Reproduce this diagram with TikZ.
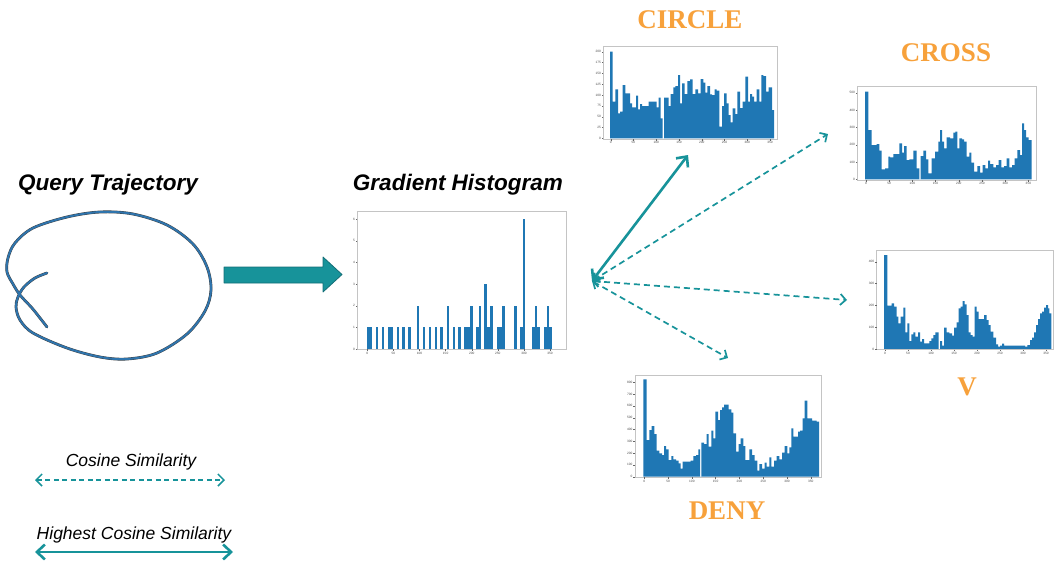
\documentclass[tikz,border=0pt]{standalone}
\usepackage{fontspec}
\setmainfont{Liberation Serif}
\setsansfont{Liberation Sans}
\usetikzlibrary{arrows.meta}
\definecolor{barblue}{HTML}{1F77B4}
\definecolor{trajblue}{HTML}{2F74AC}
\definecolor{teal}{HTML}{17939A}
\definecolor{tealdark}{HTML}{136E76}
\definecolor{orangelab}{HTML}{F7A13B}
\definecolor{spinegray}{HTML}{C4C4C4}
\tikzset{
  bar/.style={fill=barblue},
  spine/.style={draw=spinegray, line width=0.9pt},
  tickmark/.style={draw=black!60, line width=0.3pt},
  ticklab/.style={font=\sffamily\fontsize{3.2}{3.5}\selectfont, text=black!70, inner sep=0.3pt},
  heading/.style={font=\sffamily\bfseries\itshape\fontsize{22.5}{24}\selectfont, text=black, inner sep=0pt},
  classlab/.style={font=\rmfamily\bfseries\fontsize{27}{29}\selectfont, text=orangelab, inner sep=0pt},
  legendlab/.style={font=\sffamily\itshape\fontsize{17.5}{19}\selectfont, text=black, inner sep=0pt},
  solidarr/.style={draw=teal, line width=2.6pt, arrows={Straight Barb[length=8pt,width=15pt]-Straight Barb[length=8pt,width=15pt]}},
  dasharr/.style={draw=teal, line width=1.7pt, dash pattern=on 6pt off 4pt, arrows={Straight Barb[length=5.5pt,width=11pt]-Straight Barb[length=5.5pt,width=11pt]}},
  zoomed/.style={x=0.33333pt, y=-0.33333pt},
}
\begin{document}
\begin{tikzpicture}[x=1pt, y=-1pt]
\useasboundingbox (0,0) rectangle (1055,560);

% ---------- Query trajectory ----------
\node[heading] (qtitle) at (108,185) {Query Trajectory};
\draw[black!75, line width=2.8pt, line cap=round, line join=round]
  plot[smooth, tension=0.55] coordinates {(47,273) (35,278) (24,287) (18,297) (16,307) (20,320) (33,333) (67,348) (100,357) (127,359) (157,353) (187,334) (205,311) (211,290) (207,267) (193,244) (167,225) (133,214) (100,212) (67,217) (33,228) (15,243) (8,258) (7,272) (13,284) (20,295) (32,308) (40,318) (47,327)};
\draw[trajblue, line width=2pt, line cap=round, line join=round]
  plot[smooth, tension=0.55] coordinates {(47,273) (35,278) (24,287) (18,297) (16,307) (20,320) (33,333) (67,348) (100,357) (127,359) (157,353) (187,334) (205,311) (211,290) (207,267) (193,244) (167,225) (133,214) (100,212) (67,217) (33,228) (15,243) (8,258) (7,272) (13,284) (20,295) (32,308) (40,318) (47,327)};

% ---------- block arrow ----------
\draw[fill=teal, draw=tealdark, line width=0.8pt, line join=round]
  (224,267) -- (323,267) -- (323,257) -- (342,274.5) -- (323,292) -- (323,283) -- (224,283) -- cycle;

% ---------- Gradient histogram ----------
\node[heading] (gtitle) at (458,185) {Gradient Histogram};
\begin{scope}[shift={(340pt,-200pt)}, zoomed]
  \foreach \a/\b/\t in {82/97/382,107/115/382,125/133/382,143/160/382,170/178/382,187/195/382,205/213/382,230/238/317,248/256/382,266/274/382,284/292/382,301/310/382,320/328/317,338/346/382,355/363/382,373/390/382,390/398/317,408/416/382,416/424/317,433/441/252,441/451/382,451/460/317,470/485/382,487/495/317,522/530/317,540/548/382,548/556/57,576/586/382,586/592/317,592/600/382,612/620/382,620/628/317,628/636/382}
    \fill[bar] (\a,447) rectangle (\b,\t);
  \draw[spine] (52,35) rectangle (678,447);
  \foreach \v [count=\i from 0] in {0,1,2,3,4,5,6} {
    \draw[tickmark] (52,447-65*\i) -- (47,447-65*\i);
    \node[ticklab, anchor=east] at (46,447-65*\i) {\v};
  }
  \foreach \v [count=\i from 0] in {0,50,100,150,200,250,300,350} {
    \draw[tickmark] (82+78.3*\i,447) -- (82+78.3*\i,452);
    \node[ticklab, anchor=north] at (82+78.3*\i,454) {\v};
  }
\end{scope}

% ---------- CIRCLE ----------
\node[classlab] (lcircle) at (690,20) {CIRCLE};
\begin{scope}[shift={(590pt,0pt)}, zoomed]
  \fill[bar] plot[const plot] coordinates {(60,415) (60,155) (68,305) (76,268) (84,340) (90,335) (98,255) (106,280) (120,310) (126,322) (138,287) (144,328) (150,312) (156,318) (176,305) (200,322) (206,293) (212,355) (218,415) (222,293) (236,318) (242,282) (250,262) (256,258) (264,225) (270,310) (276,250) (284,282) (292,243) (300,238) (308,282) (316,268) (324,280) (332,237) (340,248) (346,278) (352,258) (360,283) (366,285) (374,268) (380,272) (388,380) (396,318) (402,280) (410,310) (416,345) (422,367) (428,325) (436,342) (442,275) (450,324) (458,305) (466,230) (474,305) (480,282) (486,290) (492,305) (500,268) (508,305) (514,225) (520,228) (528,275) (536,262) (546,330) (552,415)} -- cycle;
  \draw[spine] (40,140) rectangle (562,417);
  \foreach \v [count=\i from 0] in {0,25,50,75,100,125,150,175,200} {
    \draw[tickmark] (40,415-32.5*\i) -- (35,415-32.5*\i);
    \node[ticklab, anchor=east] at (34,415-32.5*\i) {\v};
  }
  \foreach \v [count=\i from 0] in {0,50,100,150,200,250,300,350} {
    \draw[tickmark] (62+68.3*\i,417) -- (62+68.3*\i,422);
    \node[ticklab, anchor=north] at (62+68.3*\i,423) {\v};
  }
\end{scope}

% ---------- CROSS ----------
\node[classlab] (lcross) at (946,53) {CROSS};
\begin{scope}[shift={(840pt,-80pt)}, zoomed]
  \fill[bar] plot[const plot] coordinates {(75,298) (75,35) (85,150) (95,195) (110,192) (118,212) (125,268) (135,265) (145,230) (150,232) (160,222) (178,190) (186,218) (192,198) (200,240) (208,238) (220,212) (230,265) (238,298) (242,228) (250,212) (258,238) (265,280) (275,235) (285,215) (295,185) (300,150) (306,185) (312,205) (320,172) (330,175) (340,158) (346,155) (352,205) (358,175) (366,178) (372,185) (380,230) (388,218) (394,248) (402,275) (412,258) (420,278) (428,255) (436,265) (444,242) (450,252) (460,262) (468,255) (476,240) (484,262) (492,258) (500,235) (508,262) (516,255) (524,235) (532,210) (540,225) (546,130) (552,150) (558,172) (566,180) (575,298)} -- cycle;
  \draw[spine] (52,18) rectangle (590,300);
  \foreach \v [count=\i from 0] in {0,100,200,300,400,500} {
    \draw[tickmark] (52,298-52*\i) -- (47,298-52*\i);
    \node[ticklab, anchor=east] at (46,298-52*\i) {\v};
  }
  \foreach \v [count=\i from 0] in {0,50,100,150,200,250,300,350} {
    \draw[tickmark] (78+69.6*\i,300) -- (78+69.6*\i,305);
    \node[ticklab, anchor=north] at (78+69.6*\i,306) {\v};
  }
\end{scope}

% ---------- V ----------
\node[classlab] (lv) at (967,387) {V};
\begin{scope}[shift={(850pt,-245pt)}, zoomed]
  \fill[bar] plot[const plot] coordinates {(102,312) (102,30) (112,182) (125,175) (132,185) (140,215) (145,235) (152,215) (160,188) (166,262) (172,235) (178,288) (184,268) (190,262) (196,275) (204,262) (210,290) (216,282) (222,295) (238,288) (244,280) (250,270) (256,262) (266,312) (270,288) (276,302) (282,248) (290,262) (298,265) (306,272) (312,248) (320,232) (326,190) (332,185) (338,168) (344,178) (350,210) (356,262) (362,270) (368,275) (374,185) (380,200) (386,222) (402,210) (410,225) (416,240) (422,260) (430,278) (438,298) (444,305) (450,302) (456,296) (462,302) (525,305) (532,300) (540,285) (546,278) (552,262) (558,240) (564,222) (570,205) (576,200) (582,188) (588,180) (594,190) (598,205) (604,312)} -- cycle;
  \draw[spine] (80,15) rectangle (610,314);
  \foreach \v [count=\i from 0] in {0,100,200,300,400} {
    \draw[tickmark] (80,312-65.5*\i) -- (75,312-65.5*\i);
    \node[ticklab, anchor=east] at (74,312-65.5*\i) {\v};
  }
  \foreach \v [count=\i from 0] in {0,50,100,150,200,250,300,350} {
    \draw[tickmark] (105+69*\i,314) -- (105+69*\i,319);
    \node[ticklab, anchor=north] at (105+69*\i,320) {\v};
  }
\end{scope}

% ---------- DENY ----------
\node[classlab] (ldeny) at (727,511) {DENY};
\begin{scope}[shift={(600pt,-370pt)}, zoomed]
  \fill[bar] plot[const plot] coordinates {(130,320) (130,28) (140,210) (148,180) (155,168) (163,192) (170,242) (178,250) (186,255) (192,228) (198,238) (206,270) (214,258) (220,268) (228,272) (236,280) (242,296) (248,275) (272,272) (280,258) (288,255) (295,238) (300,320) (304,218) (312,222) (320,192) (326,230) (334,182) (340,205) (346,125) (354,150) (360,120) (366,112) (372,104) (386,118) (394,128) (400,190) (408,245) (416,222) (422,205) (430,228) (436,270) (448,238) (456,255) (464,272) (472,302) (478,282) (486,296) (494,278) (500,290) (508,262) (514,290) (522,272) (530,258) (538,268) (546,248) (554,228) (562,250) (568,232) (574,175) (580,200) (594,185) (600,182) (608,145) (614,92) (622,145) (636,152) (650,155) (657,320)} -- cycle;
  \draw[spine] (105,15) rectangle (665,322);
  \foreach \v [count=\i from 0] in {0,100,200,300,400,500,600,700,800} {
    \draw[tickmark] (105,320-35.4*\i) -- (100,320-35.4*\i);
    \node[ticklab, anchor=east] at (99,320-35.4*\i) {\v};
  }
  \foreach \v [count=\i from 0] in {0,50,100,150,200,250,300,350} {
    \draw[tickmark] (133+71.3*\i,322) -- (133+71.3*\i,327);
    \node[ticklab, anchor=north] at (133+71.3*\i,328) {\v};
  }
\end{scope}

% ---------- similarity arrows ----------
\coordinate (hub) at (592,281);
\coordinate (tcircle) at (688,155);
\coordinate (tcross) at (828,134);
\coordinate (tv) at (847,300);
\coordinate (tdeny) at (728,358);
\draw[dasharr] (hub) -- (tcross);
\draw[dasharr] (hub) -- (tv);
\draw[dasharr] (hub) -- (tdeny);
\draw[solidarr] (hub) -- (tcircle);

% ---------- legend ----------
\node[legendlab] (lcos) at (131,462) {Cosine Similarity};
\coordinate (la1) at (35,480);
\coordinate (la2) at (225,480);
\draw[dasharr, line width=1.5pt, dash pattern=on 5pt off 3.5pt, arrows={Straight Barb[length=6pt,width=12pt]-Straight Barb[length=6pt,width=12pt]}] (la1) -- (la2);
\node[legendlab] (lhigh) at (134,535) {Highest Cosine Similarity};
\coordinate (lb1) at (35,552);
\coordinate (lb2) at (233,552);
\draw[solidarr] (lb1) -- (lb2);
\end{tikzpicture}
\end{document}
